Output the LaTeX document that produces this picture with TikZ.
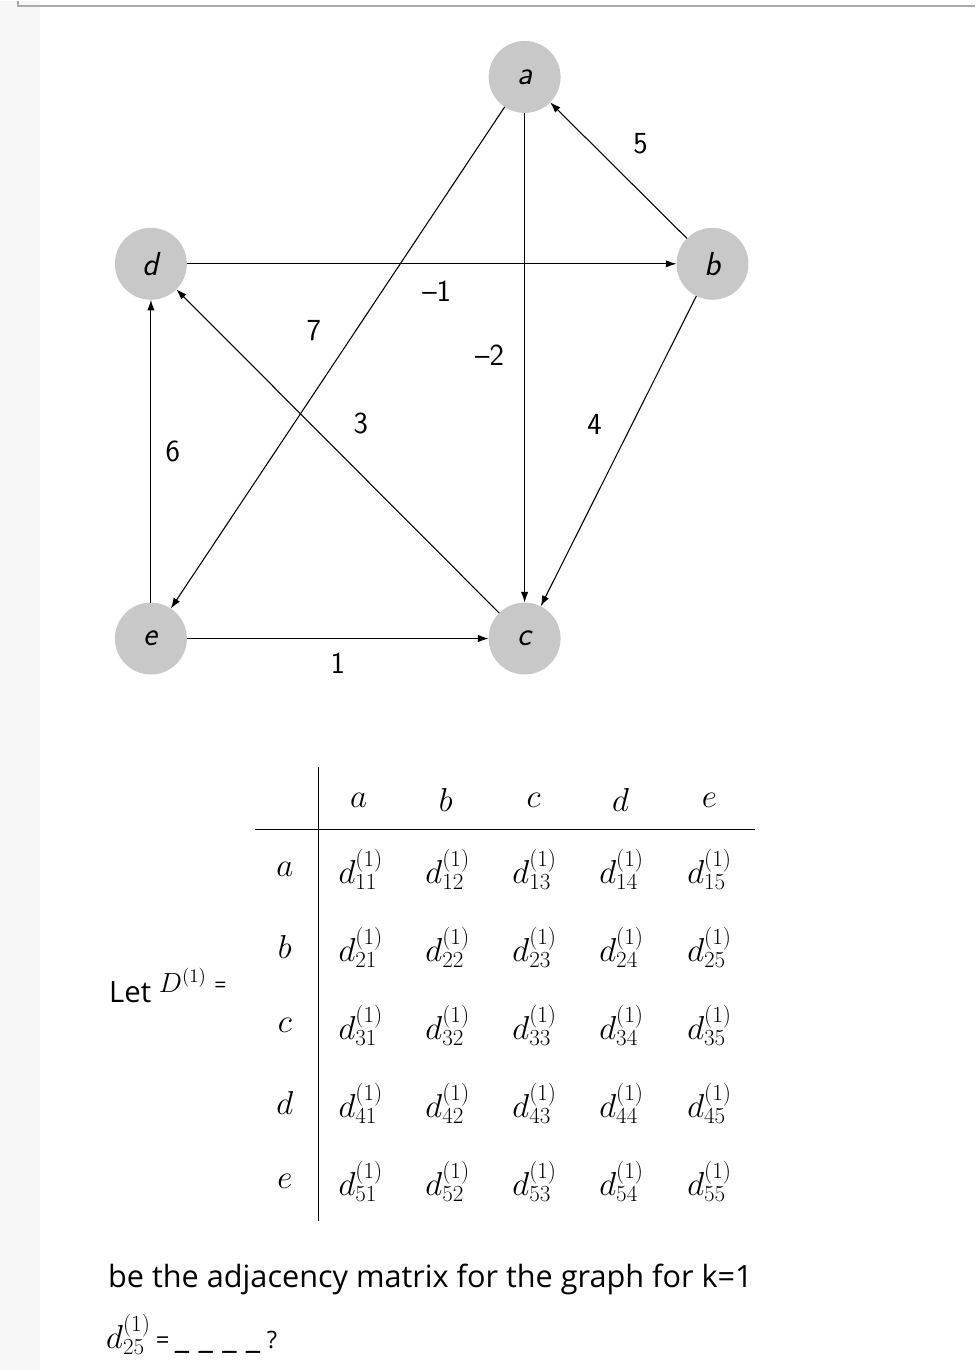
\documentclass[tikz,border=0pt]{standalone}
\usepackage{fontspec}
\setmainfont{Open Sans}
\usetikzlibrary{arrows.meta}
\definecolor{nodegrey}{HTML}{C8C8C8}
\definecolor{stripgrey}{HTML}{F7F7F7}
\definecolor{framegrey}{HTML}{AAAAAA}
\begin{document}
\begin{tikzpicture}[x=0.75pt, y=-0.75pt,
    vertex/.style={circle, fill=nodegrey, minimum size=54pt, inner sep=0pt, outer sep=0pt,
                   font=\fontsize{25}{30}\sffamily\itshape},
    edge/.style={-{Latex[length=8pt,width=5.5pt]}, line width=0.8pt},
    weight/.style={font=\fontsize{23}{28}\sffamily},
    entry/.style={font=\fontsize{24}{28}\selectfont, inner sep=0pt},
    prose/.style={font=\fontsize{23}{28}\selectfont, inner sep=0pt}]
            % Page
            \fill[stripgrey] (0,0) rectangle (40,1370);
            \draw[framegrey, line width=1.5pt] (18,0) -- (18,5) -- (976,5);
            \useasboundingbox (0,0) rectangle (976,1370);
            % Vertices
            \node[vertex] (a) at (525,76) {a};
            \node[vertex] (b) at (713,263) {b};
            \node[vertex] (c) at (525,638) {c};
            \node[vertex] (d) at (151,263) {d};
            \node[vertex] (e) at (151,638) {e};
            % Edges
            \draw[edge] (a) -- (e);
            \draw[edge] (a) -- (c);
            \draw[edge] (b) -- (a);
            \draw[edge] (d) -- (b);
            \draw[edge] (c) -- (d);
            \draw[edge] (b) -- (c);
            \draw[edge] (e) -- (d);
            \draw[edge] (e) -- (c);
            % Weights
            \node[weight] (wba) at (641,143) {5};
            \node[weight] (wdb) at (437,290) {–1};
            \node[weight] (wae) at (314,330) {7};
            \node[weight] (wac) at (490,354) {–2};
            \node[weight] (wcd) at (361,423) {3};
            \node[weight] (wbc) at (595,424) {4};
            \node[weight] (wed) at (173,451) {6};
            \node[weight] (wec) at (338,663) {1};
            % Table lines
            \draw[line width=1pt] (319,767) -- (319,1221);
            \draw[line width=1pt] (255,829) -- (756,829);
            % Column heads
            \foreach \v/\x in {a/359, b/446, c/534, d/621, e/710}
                \node[entry] (col\v) at (\x,800) {$\v$};
            % Rows
            \foreach \v/\y [count=\i] in {a/869, b/947, c/1025, d/1103, e/1181}{
                \node[entry] (row\v) at (285,\y) {$\v$};
                \foreach \x [count=\j] in {361, 448, 535, 622, 710}
                    \node[entry] (m\i\j) at (\x,\y) {$d^{(1)}_{\i\j}$};
            }
            % Text
            \node[prose, anchor=base west, font=\fontsize{22}{26}\selectfont] (let) at (109,1002)
                {Let \raisebox{7pt}{$D^{(1)}$ {\fontsize{16}{18}\selectfont=}}};
            \node[prose, anchor=base west] (caption) at (108,1287) {be the adjacency matrix for the graph for k=1};
            \node[prose, anchor=west] (ask) at (106,1334)
                {$d^{(1)}_{25}$\hspace{4pt}{\fontsize{18}{20}\selectfont=}\hspace{4pt}{\fontsize{24}{26}\selectfont\_\hspace{7pt}\_\hspace{7pt}\_\hspace{7pt}\_}\hspace{5pt}{\fontsize{18}{20}\selectfont?}};
        \end{tikzpicture}
\end{document}
